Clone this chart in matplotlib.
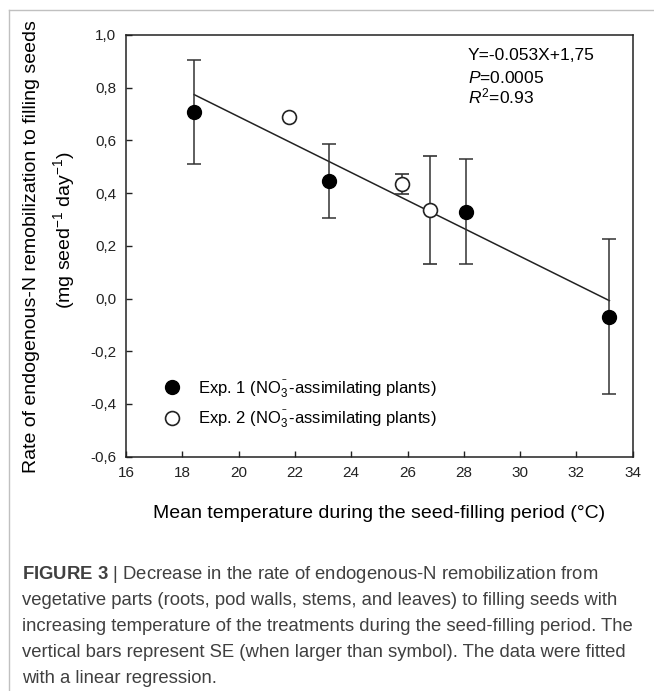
import numpy as np
import matplotlib
matplotlib.use('Agg')
import matplotlib.pyplot as plt
from matplotlib.lines import Line2D
from matplotlib.ticker import FuncFormatter

plt.rcParams['font.family'] = ['Liberation Sans', 'DejaVu Sans']
plt.rcParams['mathtext.fontset'] = 'custom'
plt.rcParams['mathtext.rm'] = 'Liberation Sans'
plt.rcParams['mathtext.it'] = 'Liberation Sans:italic'
plt.rcParams['mathtext.bf'] = 'Liberation Sans:bold'

# Exp. 1 (filled) and Exp. 2 (open)
exp1_temp = [18.42, 23.2, 28.07, 33.17]
exp1_rate = [0.709, 0.446, 0.330, -0.069]
exp1_se = [0.197, 0.14, 0.198, 0.295]

exp2_temp = [21.8, 25.79, 26.8]
exp2_rate = [0.690, 0.435, 0.335]
exp2_se = [0.0, 0.038, 0.205]

# linear fit Y = -0.053X + 1.75
slope = -0.053
intercept = 1.75
fit_range = [18.42, 33.17]

fig = plt.figure(figsize=(6.54, 6.91), dpi=100)
ax = fig.add_axes([0.1927, 0.3391, 0.7748, 0.6103])

xf = np.array(fit_range)
ax.plot(xf, slope * xf + intercept, color='#222222', lw=1.1, zorder=2)

ax.errorbar(exp1_temp, exp1_rate, yerr=exp1_se, fmt='o', color='black',
            ecolor='#333333', elinewidth=1.1, capsize=5, capthick=1.1,
            markersize=10, zorder=3)
ax.errorbar(exp2_temp, exp2_rate, yerr=exp2_se, fmt='o', mfc='white',
            mec='#222222', mew=1.2, ecolor='#333333', elinewidth=1.1,
            capsize=5, capthick=1.1, markersize=10, zorder=3)

ax.set_xlim(16, 34)
ax.set_ylim(-0.6, 1.0)
ax.set_xticks(np.arange(16, 35, 2))
ax.set_yticks(np.arange(-0.6, 1.01, 0.2))
ax.yaxis.set_major_formatter(FuncFormatter(lambda v, p: f'{v:.1f}'.replace('.', ',').replace('-0,0', '0,0')))
ax.tick_params(direction='in', length=4.5, width=1, labelsize=11, pad=7, colors='#222222')
for s in ax.spines.values():
    s.set_linewidth(1.1)
    s.set_color('#222222')

ax.set_xlabel('Mean temperature during the seed-filling period (°C)', fontsize=14, labelpad=18)

# two-line y label
fig.text(0.048, 0.643, 'Rate of endogenous-N remobilization to filling seeds',
         rotation=90, fontsize=14, ha='center', va='center')
fig.text(0.098, 0.667, r'(mg seed$^{-1}$ day$^{-1}$)',
         rotation=90, fontsize=14, ha='center', va='center')

ax.text(0.674, 0.940, 'Y=-0.053X+1,75', transform=ax.transAxes, fontsize=12.5, va='baseline')
ax.text(0.674, 0.887, '$P$=0.0005', transform=ax.transAxes, fontsize=12.5, va='baseline')
ax.text(0.674, 0.838, '$R^2$=0.93', transform=ax.transAxes, fontsize=12.5, va='baseline')

handles = [Line2D([], [], ls='none', marker='o', ms=10, color='black'),
           Line2D([], [], ls='none', marker='o', ms=10, mfc='white', mec='#222222', mew=1.2)]
labels = [r'Exp. 1 (NO$_3^{^-}$-assimilating plants)', r'Exp. 2 (NO$_3^{^-}$-assimilating plants)']
ax.legend(handles, labels, loc='center left', bbox_to_anchor=(0.0738, 0.1257), frameon=False,
          fontsize=12, borderpad=0, borderaxespad=0, handlelength=1.0,
          handletextpad=1.1, labelspacing=0.5)

# figure frame
fig.add_artist(Line2D([0.0138, 0.0138], [0, 0.9855], color='#c0c0c0', lw=1))
fig.add_artist(Line2D([0.0138, 1], [0.9855, 0.9855], color='#c0c0c0', lw=1))

cap_lines = [r'$\mathbf{FIGURE\ 3}$ | Decrease in the rate of endogenous-N remobilization from',
             'vegetative parts (roots, pod walls, stems, and leaves) to filling seeds with',
             'increasing temperature of the treatments during the seed-filling period. The',
             'vertical bars represent SE (when larger than symbol). The data were fitted',
             'with a linear regression.']
for i, line in enumerate(cap_lines):
    fig.text(0.0336, 1 - (579 + 26 * i) / 691, line, fontsize=13.3, color='#404040', va='baseline')

fig.savefig('out.png', dpi=100)
